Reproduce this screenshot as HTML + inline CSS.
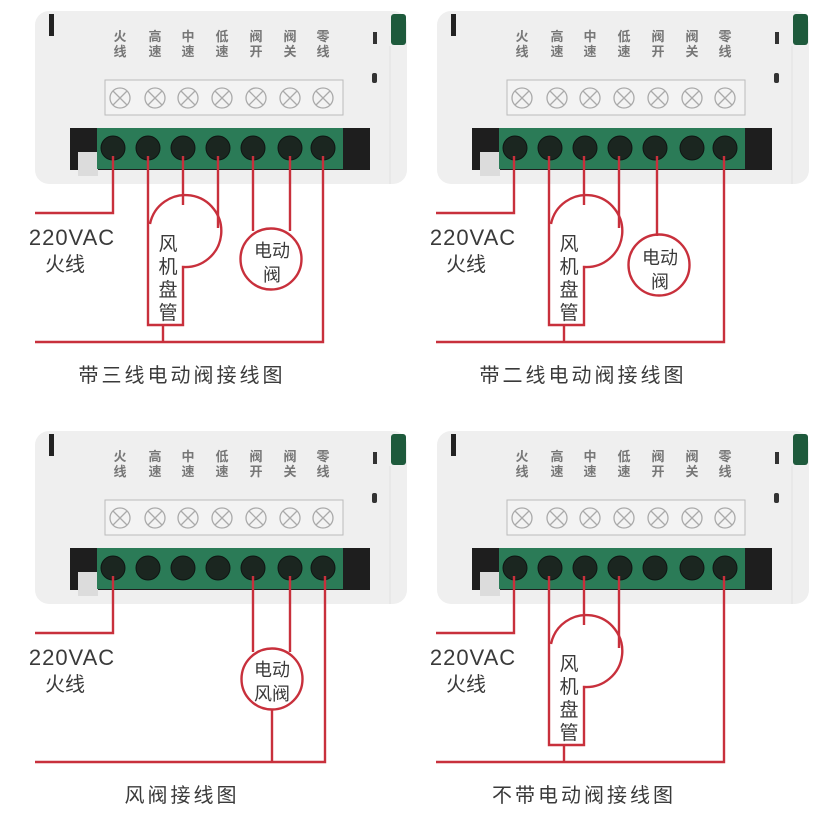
<!DOCTYPE html>
<html><head><meta charset="utf-8"><style>
html,body{margin:0;padding:0;background:#fff;width:840px;height:829px;overflow:hidden}
svg{display:block}
.lb{font-family:"Liberation Sans","Noto Sans CJK SC",sans-serif;font-size:13px;fill:#777;text-anchor:middle;font-weight:bold}
.t{font-family:"Liberation Sans","Noto Sans CJK SC",sans-serif;fill:#3a3a3a;text-anchor:middle}
.w{stroke:#c8303c;stroke-width:2.4;fill:none}
.x{fill:none;stroke:#aaa;stroke-width:1.3}
</style></head><body>
<svg width="840" height="829" viewBox="0 0 840 829" xmlns="http://www.w3.org/2000/svg">
<defs>
<g id="dev">
<rect x="35" y="11" width="372" height="173" rx="14" fill="#efefef"/>
<line x1="390" y1="46" x2="390" y2="184" stroke="#e2e2e2" stroke-width="1"/>
<rect x="391" y="14" width="15" height="31" rx="3" fill="#1e5a3c"/>
<rect x="49" y="14" width="5" height="22" fill="#222"/>
<rect x="373" y="32" width="4" height="12" fill="#333"/>
<rect x="372" y="73" width="5" height="10" rx="2" fill="#333"/>
<rect x="105" y="80" width="238" height="35" fill="#f3f3f3" stroke="#bbb" stroke-width="1"/>
<rect x="70" y="128" width="300" height="42" fill="#1e1e1e"/>
<rect x="78" y="152" width="20" height="24" fill="#dcdcdc"/>
<rect x="97" y="128" width="246" height="41" fill="#2b7b57"/>
<g fill="#1b2620" stroke="#0e1512" stroke-width="1">
<circle cx="113" cy="148" r="12"/><circle cx="148" cy="148" r="12"/><circle cx="183" cy="148" r="12"/><circle cx="218" cy="148" r="12"/><circle cx="253" cy="148" r="12"/><circle cx="290" cy="148" r="12"/><circle cx="323" cy="148" r="12"/>
</g>
<g class="x">
<circle cx="120" cy="98" r="10"/><path d="M113 91l14 14M127 91l-14 14"/>
<circle cx="155" cy="98" r="10"/><path d="M148 91l14 14M162 91l-14 14"/>
<circle cx="188" cy="98" r="10"/><path d="M181 91l14 14M195 91l-14 14"/>
<circle cx="222" cy="98" r="10"/><path d="M215 91l14 14M229 91l-14 14"/>
<circle cx="256" cy="98" r="10"/><path d="M249 91l14 14M263 91l-14 14"/>
<circle cx="290" cy="98" r="10"/><path d="M283 91l14 14M297 91l-14 14"/>
<circle cx="323" cy="98" r="10"/><path d="M316 91l14 14M330 91l-14 14"/>
</g>
</g>
</defs>

<use href="#dev"/>
<use href="#dev" transform="translate(402,0)"/>
<use href="#dev" transform="translate(0,420)"/>
<use href="#dev" transform="translate(402,420)"/>

<g class="lb">
<text x="120" y="41">火</text><text x="120" y="56">线</text>
<text x="155" y="41">高</text><text x="155" y="56">速</text>
<text x="188" y="41">中</text><text x="188" y="56">速</text>
<text x="222" y="41">低</text><text x="222" y="56">速</text>
<text x="256" y="41">阀</text><text x="256" y="56">开</text>
<text x="290" y="41">阀</text><text x="290" y="56">关</text>
<text x="323" y="41">零</text><text x="323" y="56">线</text>
</g>
<g class="lb" transform="translate(402,0)">
<text x="120" y="41">火</text><text x="120" y="56">线</text>
<text x="155" y="41">高</text><text x="155" y="56">速</text>
<text x="188" y="41">中</text><text x="188" y="56">速</text>
<text x="222" y="41">低</text><text x="222" y="56">速</text>
<text x="256" y="41">阀</text><text x="256" y="56">开</text>
<text x="290" y="41">阀</text><text x="290" y="56">关</text>
<text x="323" y="41">零</text><text x="323" y="56">线</text>
</g>
<g class="lb" transform="translate(0,420)">
<text x="120" y="41">火</text><text x="120" y="56">线</text>
<text x="155" y="41">高</text><text x="155" y="56">速</text>
<text x="188" y="41">中</text><text x="188" y="56">速</text>
<text x="222" y="41">低</text><text x="222" y="56">速</text>
<text x="256" y="41">阀</text><text x="256" y="56">开</text>
<text x="290" y="41">阀</text><text x="290" y="56">关</text>
<text x="323" y="41">零</text><text x="323" y="56">线</text>
</g>
<g class="lb" transform="translate(402,420)">
<text x="120" y="41">火</text><text x="120" y="56">线</text>
<text x="155" y="41">高</text><text x="155" y="56">速</text>
<text x="188" y="41">中</text><text x="188" y="56">速</text>
<text x="222" y="41">低</text><text x="222" y="56">速</text>
<text x="256" y="41">阀</text><text x="256" y="56">开</text>
<text x="290" y="41">阀</text><text x="290" y="56">关</text>
<text x="323" y="41">零</text><text x="323" y="56">线</text>
</g>

<g>
<path class="w" d="M113 156V213H35"/>
<path class="w" d="M148 156V325H183V267A36 36 0 1 0 150 224"/>
<path class="w" d="M183 156V205M218 156V228"/>
<path class="w" d="M163 325V342M35 342H323V156"/>
<path class="w" d="M253 156V231M290 156V231"/>
<circle class="w" cx="271" cy="259" r="30.5" fill="#fff"/>
<text class="t" x="72" y="245" font-size="22" letter-spacing="1">220VAC</text>
<text class="t" x="65" y="271" font-size="20">火线</text>
<text class="t" x="168" y="250" font-size="19">风</text>
<text class="t" x="168" y="273" font-size="19">机</text>
<text class="t" x="168" y="296" font-size="19">盘</text>
<text class="t" x="168" y="319" font-size="19">管</text>
<text class="t" x="272" y="257" font-size="18">电动</text>
<text class="t" x="272" y="281" font-size="18">阀</text>
<text class="t" x="182" y="382" font-size="20" letter-spacing="3">带三线电动阀接线图</text>
</g>

<g transform="translate(401,0)">
<path class="w" d="M113 156V213H35"/>
<path class="w" d="M148 156V325H183V267A36 36 0 1 0 150 224"/>
<path class="w" d="M183 156V205M218 156V228"/>
<path class="w" d="M163 325V342M35 342H323V156"/>
<path class="w" d="M256 156V236"/>
<circle class="w" cx="258" cy="265" r="30.5" fill="#fff"/>
<text class="t" x="72" y="245" font-size="22" letter-spacing="1">220VAC</text>
<text class="t" x="65" y="271" font-size="20">火线</text>
<text class="t" x="168" y="250" font-size="19">风</text>
<text class="t" x="168" y="273" font-size="19">机</text>
<text class="t" x="168" y="296" font-size="19">盘</text>
<text class="t" x="168" y="319" font-size="19">管</text>
<text class="t" x="259" y="264" font-size="18">电动</text>
<text class="t" x="259" y="288" font-size="18">阀</text>
<text class="t" x="182" y="382" font-size="20" letter-spacing="3">带二线电动阀接线图</text>
</g>

<g transform="translate(0,420)">
<path class="w" d="M113 156V213H35"/>
<path class="w" d="M253 156V232M290 156V232"/>
<path class="w" d="M272 290V342M35 342H325V156"/>
<circle class="w" cx="272" cy="259" r="30.5" fill="#fff"/>
<text class="t" x="72" y="245" font-size="22" letter-spacing="1">220VAC</text>
<text class="t" x="65" y="271" font-size="20">火线</text>
<text class="t" x="272" y="256" font-size="18">电动</text>
<text class="t" x="272" y="280" font-size="18">风阀</text>
<text class="t" x="182" y="382" font-size="20" letter-spacing="3">风阀接线图</text>
</g>

<g transform="translate(401,420)">
<path class="w" d="M113 156V213H35"/>
<path class="w" d="M148 156V325H183V267A36 36 0 1 0 150 224"/>
<path class="w" d="M183 156V205M218 156V228"/>
<path class="w" d="M163 325V342M35 342H323V156"/>
<text class="t" x="72" y="245" font-size="22" letter-spacing="1">220VAC</text>
<text class="t" x="65" y="271" font-size="20">火线</text>
<text class="t" x="168" y="250" font-size="19">风</text>
<text class="t" x="168" y="273" font-size="19">机</text>
<text class="t" x="168" y="296" font-size="19">盘</text>
<text class="t" x="168" y="319" font-size="19">管</text>
<text class="t" x="183" y="382" font-size="20" letter-spacing="3">不带电动阀接线图</text>
</g>
</svg>
</body></html>
